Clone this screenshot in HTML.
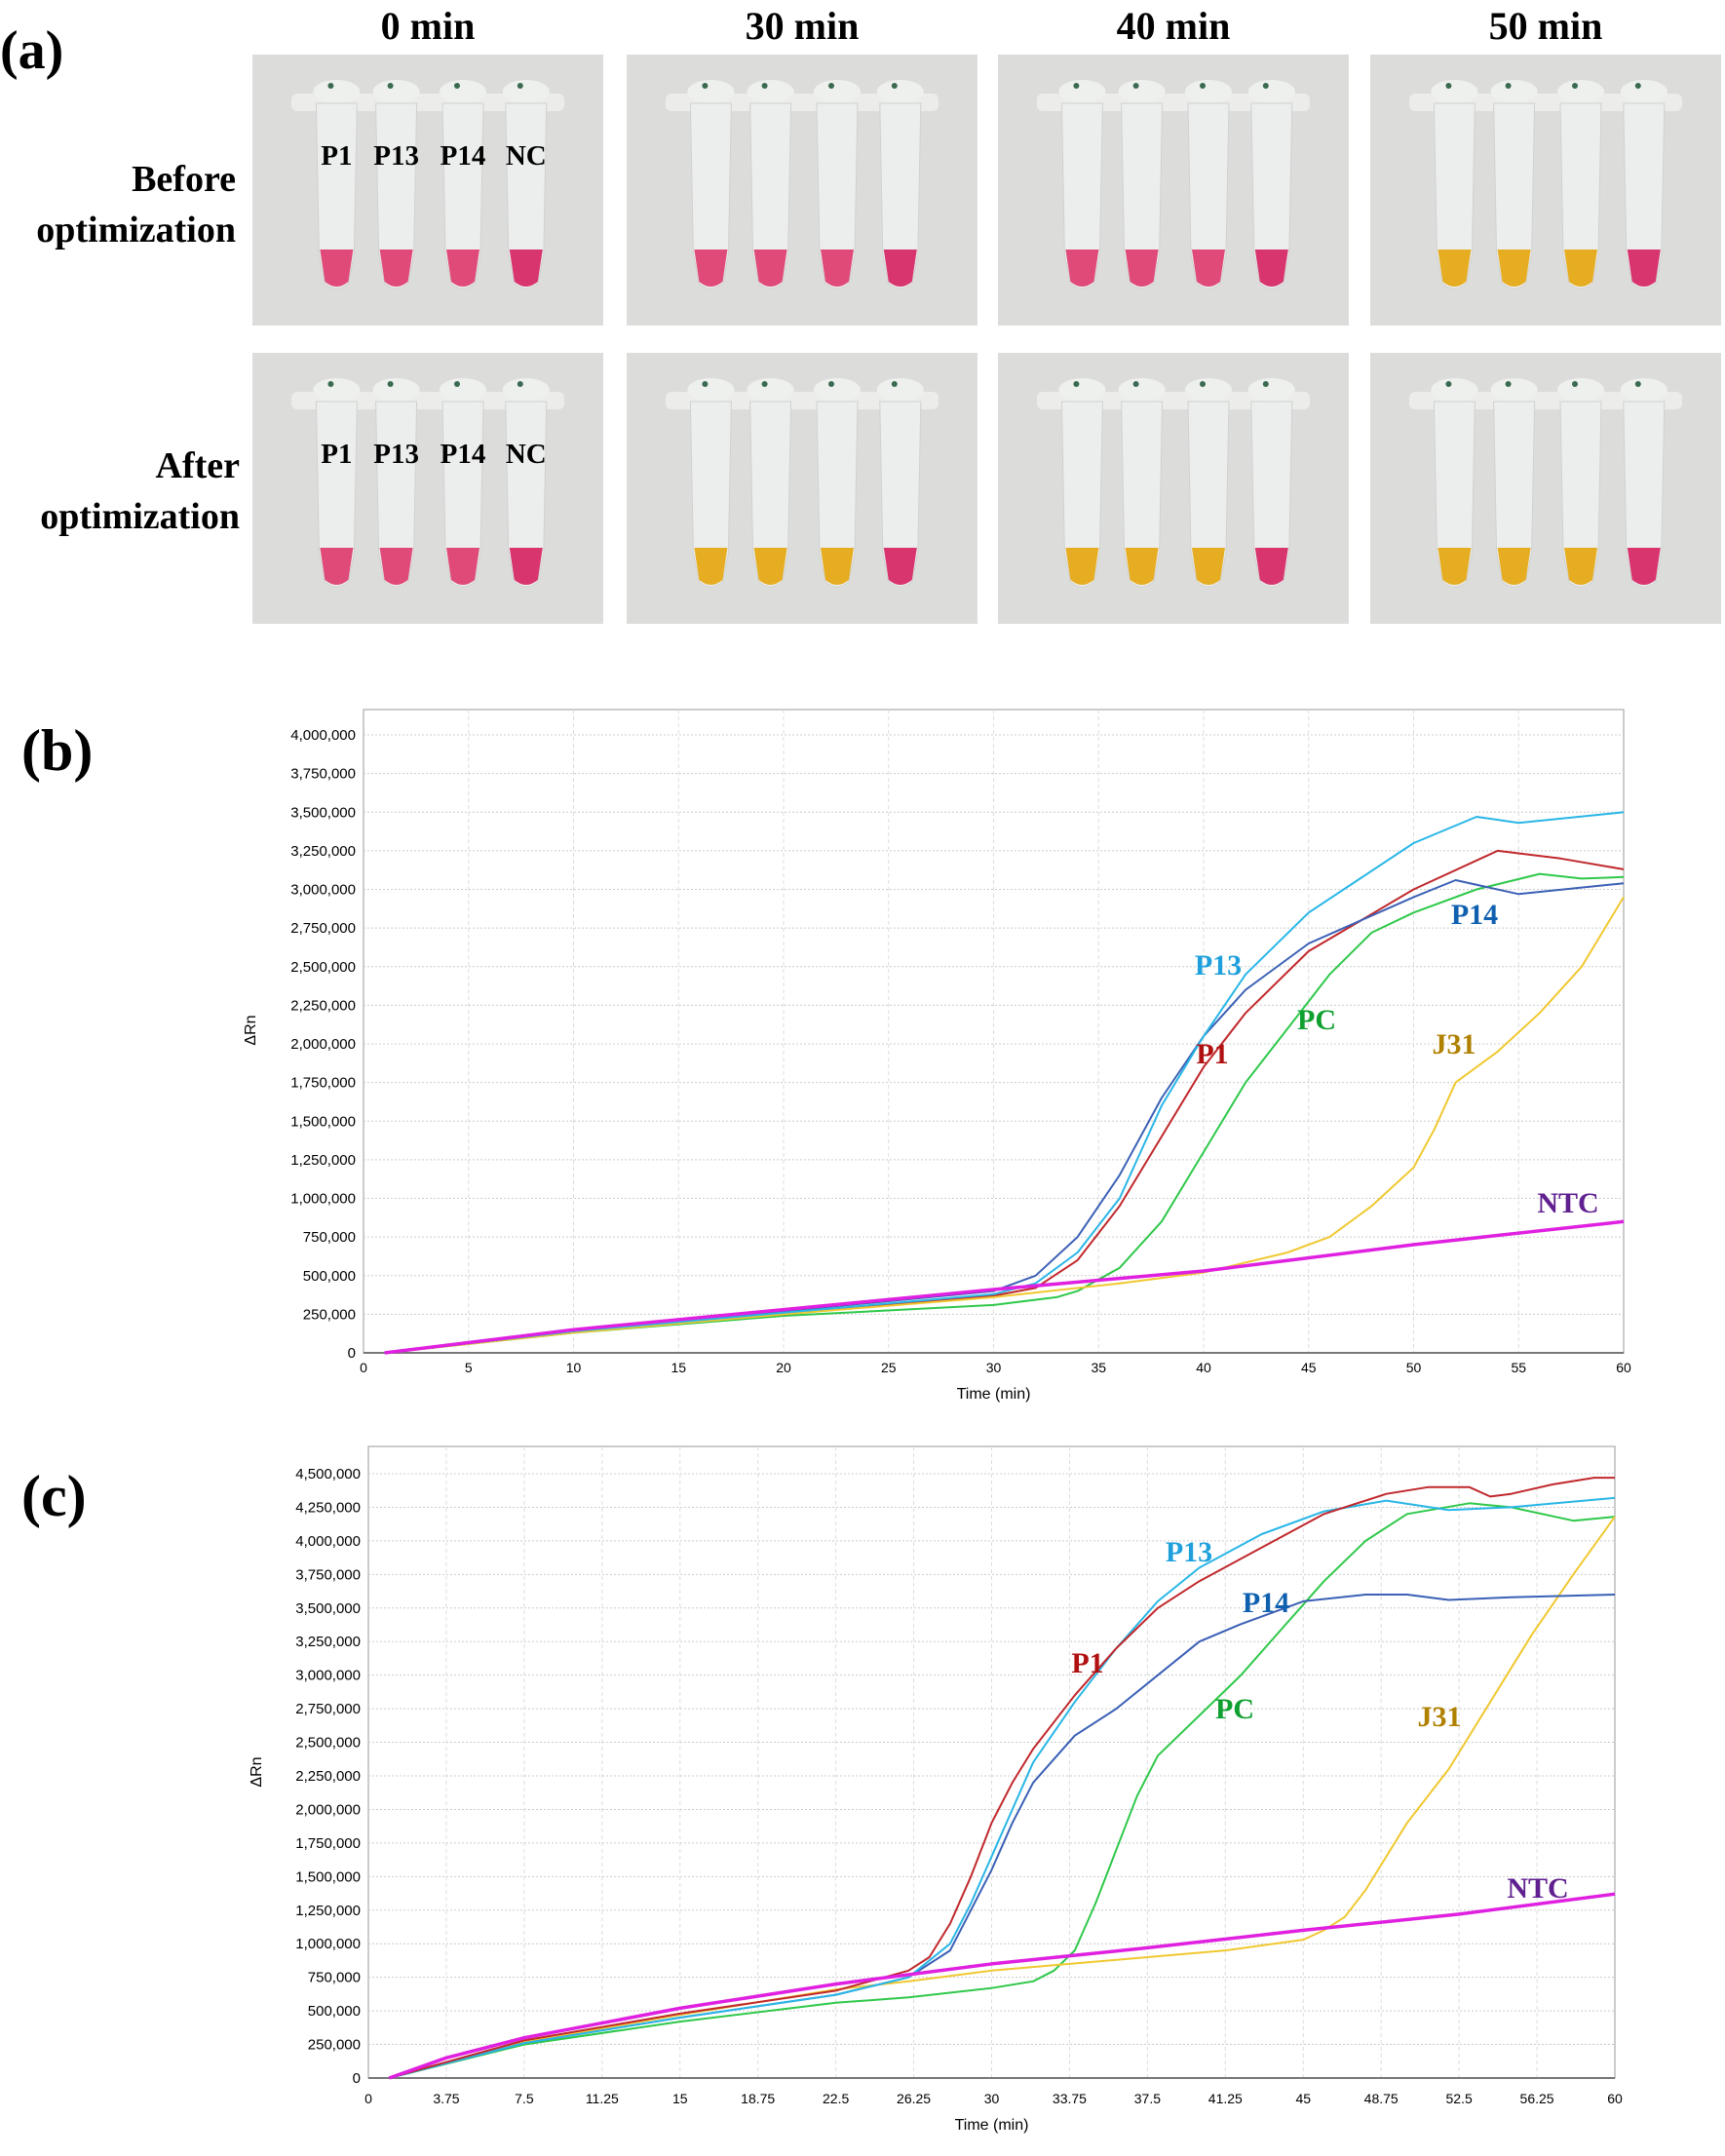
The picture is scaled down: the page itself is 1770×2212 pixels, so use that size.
<!DOCTYPE html>
<html><head><meta charset="utf-8"><style>
html,body{margin:0;padding:0;background:#fff;}
body{width:1770px;height:2212px;position:relative;overflow:hidden;}
svg{position:absolute;left:0;top:0;}
</style></head><body>
<svg id="s" width="1770" height="2212" xmlns="http://www.w3.org/2000/svg"></svg>
<script>
const S=document.getElementById('s');let h='';
const serif='font-family="Liberation Serif, serif" font-weight="bold"';
h+=`<text x="0" y="70" ${serif} font-size="56">(a)</text>`;
const colX=[259,643,1024,1406],rowY=[56,362],W=360,H=278;
['0 min','30 min','40 min','50 min'].forEach((t,i)=>{h+=`<text x="${colX[i]+180}" y="40" ${serif} font-size="40" text-anchor="middle">${t}</text>`;});
h+=`<text x="242" y="196" ${serif} font-size="38" text-anchor="end">Before</text><text x="242" y="248" ${serif} font-size="38" text-anchor="end">optimization</text>`;
h+=`<text x="246" y="490" ${serif} font-size="38" text-anchor="end">After</text><text x="246" y="542" ${serif} font-size="38" text-anchor="end">optimization</text>`;
const P='#e04a78',Y='#e6ad22',N='#d8356e';
const cols=[[[P,P,P,N],[P,P,P,N],[P,P,P,N],[Y,Y,Y,N]],[[P,P,P,N],[Y,Y,Y,N],[Y,Y,Y,N],[Y,Y,Y,N]]];
for(let r=0;r<2;r++)for(let c=0;c<4;c++){
 const x0=colX[c],y0=rowY[r];
 h+=`<rect x="${x0}" y="${y0}" width="${W}" height="${H}" fill="#dcdcdb"/>`;
 h+=`<rect x="${x0+40}" y="${y0+40}" width="280" height="18" rx="6" fill="#ecedeb"/>`;
 [.24,.41,.60,.78].forEach((f,k)=>{
  const cx=x0+W*f;
  h+=`<ellipse cx="${cx}" cy="${y0+38}" rx="24" ry="12" fill="#eef0ee"/><circle cx="${cx-6}" cy="${y0+32}" r="3" fill="#3a6a50"/>`;
  h+=`<path d="M${cx-21} ${y0+50} L${cx+21} ${y0+50} L${cx+18} ${y0+205} L${cx+12} ${y0+235} Q${cx} ${y0+245} ${cx-12} ${y0+235} L${cx-18} ${y0+205} Z" fill="#eceeed" stroke="#d0d2d0" stroke-width="1"/>`;
  h+=`<path d="M${cx-17} ${y0+200} L${cx+17} ${y0+200} L${cx+12} ${y0+233} Q${cx} ${y0+243} ${cx-12} ${y0+233} Z" fill="${cols[r][c][k]}"/>`;
 });
 if(c==0){[['P1',.24],['P13',.41],['P14',.60],['NC',.78]].forEach(([t,f])=>{h+=`<text x="${x0+W*f}" y="${y0+113}" ${serif} font-size="29" text-anchor="middle">${t}</text>`;});}
}
function chart(o){
 const {L,R,T,B,ymax,ystep,xt,series,labels,yAx,yTitle,xT}=o;
 const sx=t=>L+(t/60)*(R-L),sy=v=>B-(v/ymax)*(B-o.ytop);
 const n=Math.round(ymax/ystep);
 h+=`<rect x="${L}" y="${T}" width="${R-L}" height="${B-T}" fill="#fff" stroke="#bbb" stroke-width="1.5"/>`;
 for(let i=1;i<=n;i++){const v=i*ystep;h+=`<line x1="${L}" x2="${R}" y1="${sy(v)}" y2="${sy(v)}" stroke="#ccc" stroke-dasharray="2,2"/>`;}
 xt.forEach(t=>{if(t>0&&t<60)h+=`<line x1="${sx(t)}" x2="${sx(t)}" y1="${T}" y2="${B}" stroke="#ddd" stroke-dasharray="4,3"/>`;});
 for(let i=0;i<=n;i++){const v=i*ystep;h+=`<text x="${L-8}" y="${sy(v)+5}" font-family="Liberation Sans, sans-serif" font-size="15" text-anchor="end">${(Math.round(v*1e6)).toLocaleString('en-US')}</text>`;}
 xt.forEach(t=>{h+=`<text x="${sx(t)}" y="${xT}" font-family="Liberation Sans, sans-serif" font-size="14" text-anchor="middle">${t}</text>`;});
 h+=`<line x1="${L}" x2="${R}" y1="${B}" y2="${B}" stroke="#777" stroke-width="2"/>`;
 h+=`<text x="${(L+R)/2}" y="${xT+27}" font-family="Liberation Sans, sans-serif" font-size="16" text-anchor="middle">Time (min)</text>`;
 h+=`<text transform="translate(${yAx},${yTitle}) rotate(-90)" font-family="Liberation Sans, sans-serif" font-size="16" text-anchor="middle">ΔRn</text>`;
 series.forEach(([c,w,pts])=>{h+=`<polyline fill="none" stroke="${c}" stroke-width="${w}" stroke-linejoin="round" points="${pts.map(p=>sx(p[0]).toFixed(1)+','+sy(p[1]).toFixed(1)).join(' ')}"/>`;});
 labels.forEach(([t,x,y,c])=>{h+=`<text x="${x}" y="${y+10}" ${serif} font-size="30" fill="${c}" text-anchor="middle">${t}</text>`;});
}
h+=`<text x="22" y="790" ${serif} font-size="60">(b)</text>`;
chart({L:373,R:1666,T:728,B:1388,ytop:754,ymax:4,ystep:0.25,xt:[0,5,10,15,20,25,30,35,40,45,50,55,60],xT:1408,yAx:262,yTitle:1057,
series:[
['#2fc84a',2,[[1,0],[10,0.13],[20,0.24],[30,0.31],[33,0.36],[34,0.4],[36,0.55],[38,0.85],[40,1.3],[42,1.75],[44,2.1],[46,2.45],[48,2.72],[50,2.85],[53,3.0],[56,3.1],[58,3.07],[60,3.08]]],
['#c0282c',2,[[1,0],[10,0.14],[20,0.25],[30,0.37],[32,0.42],[34,0.6],[36,0.95],[38,1.4],[40,1.85],[42,2.2],[45,2.6],[50,3.0],[54,3.25],[57,3.2],[60,3.13]]],
['#f0c830',2,[[1,0],[10,0.13],[20,0.25],[30,0.36],[36,0.45],[40,0.52],[44,0.65],[46,0.75],[48,0.95],[50,1.2],[51,1.45],[52,1.75],[54,1.95],[56,2.2],[58,2.5],[60,2.95]]],
['#3b60b5',2,[[1,0],[10,0.14],[20,0.27],[30,0.4],[32,0.5],[34,0.75],[36,1.15],[38,1.65],[40,2.05],[42,2.35],[45,2.65],[50,2.95],[52,3.06],[55,2.97],[60,3.04]]],
['#29b6e6',2,[[1,0],[10,0.14],[20,0.26],[30,0.38],[32,0.45],[34,0.65],[36,1.0],[38,1.6],[40,2.05],[42,2.45],[45,2.85],[50,3.3],[53,3.47],[55,3.43],[60,3.5]]],
['#e020e0',3.5,[[1,0],[10,0.15],[20,0.28],[30,0.41],[40,0.53],[50,0.70],[60,0.85]]]],
labels:[['P13',1250,990,'#1fa0dc'],['P14',1513,938,'#1060b0'],['P1',1244,1081,'#b01010'],['PC',1351,1046,'#10a030'],['J31',1492,1071,'#b08000'],['NTC',1609,1234,'#602090']]});
h+=`<text x="22" y="1555" ${serif} font-size="60">(c)</text>`;
chart({L:378,R:1657,T:1484,B:2132,ytop:1512,ymax:4.5,ystep:0.25,xt:[0,3.75,7.5,11.25,15,18.75,22.5,26.25,30,33.75,37.5,41.25,45,48.75,52.5,56.25,60],xT:2158,yAx:268,yTitle:1818,
series:[
['#2fc84a',2,[[1,0],[7.5,0.25],[15,0.42],[22.5,0.56],[26,0.6],[30,0.67],[32,0.72],[33,0.8],[34,0.95],[35,1.3],[36,1.7],[37,2.1],[38,2.4],[40,2.7],[42,3.0],[44,3.35],[46,3.7],[48,4.0],[50,4.2],[53,4.28],[55,4.25],[58,4.15],[60,4.18]]],
['#f0c830',2,[[1,0],[7.5,0.27],[15,0.47],[22.5,0.66],[26,0.72],[30,0.8],[37.5,0.9],[41.25,0.95],[45,1.03],[46,1.1],[47,1.2],[48,1.4],[49,1.65],[50,1.9],[52,2.3],[54,2.8],[56,3.3],[58,3.75],[60,4.18]]],
['#3b60b5',2,[[1,0],[7.5,0.26],[15,0.45],[22.5,0.62],[26,0.75],[28,0.95],[29,1.25],[30,1.55],[31,1.9],[32,2.2],[34,2.55],[36,2.75],[38,3.0],[40,3.25],[42,3.38],[45,3.55],[48,3.6],[50,3.6],[52,3.56],[55,3.58],[60,3.6]]],
['#29b6e6',2,[[1,0],[7.5,0.26],[15,0.45],[22.5,0.62],[26,0.75],[28,1.0],[29,1.3],[30,1.65],[31,2.0],[32,2.35],[34,2.8],[36,3.2],[38,3.55],[40,3.8],[43,4.05],[46,4.22],[49,4.3],[52,4.23],[55,4.25],[60,4.32]]],
['#c0282c',2,[[1,0],[7.5,0.28],[15,0.48],[22.5,0.65],[26,0.8],[27,0.9],[28,1.15],[29,1.5],[30,1.9],[31,2.2],[32,2.45],[34,2.85],[36,3.2],[38,3.5],[40,3.7],[43,3.95],[46,4.2],[49,4.35],[51,4.4],[53,4.4],[54,4.33],[55,4.35],[57,4.42],[59,4.47],[60,4.47]]],
['#e020e0',3.5,[[1,0],[3.75,0.15],[7.5,0.3],[15,0.52],[22.5,0.7],[30,0.85],[37.5,0.97],[45,1.1],[52.5,1.22],[60,1.37]]]],
labels:[['P13',1220,1592,'#1fa0dc'],['P14',1299,1644,'#1060b0'],['P1',1116,1706,'#b01010'],['PC',1267,1753,'#10a030'],['J31',1477,1761,'#b08000'],['NTC',1578,1937,'#602090']]});
S.innerHTML=h;
</script>
</body></html>
